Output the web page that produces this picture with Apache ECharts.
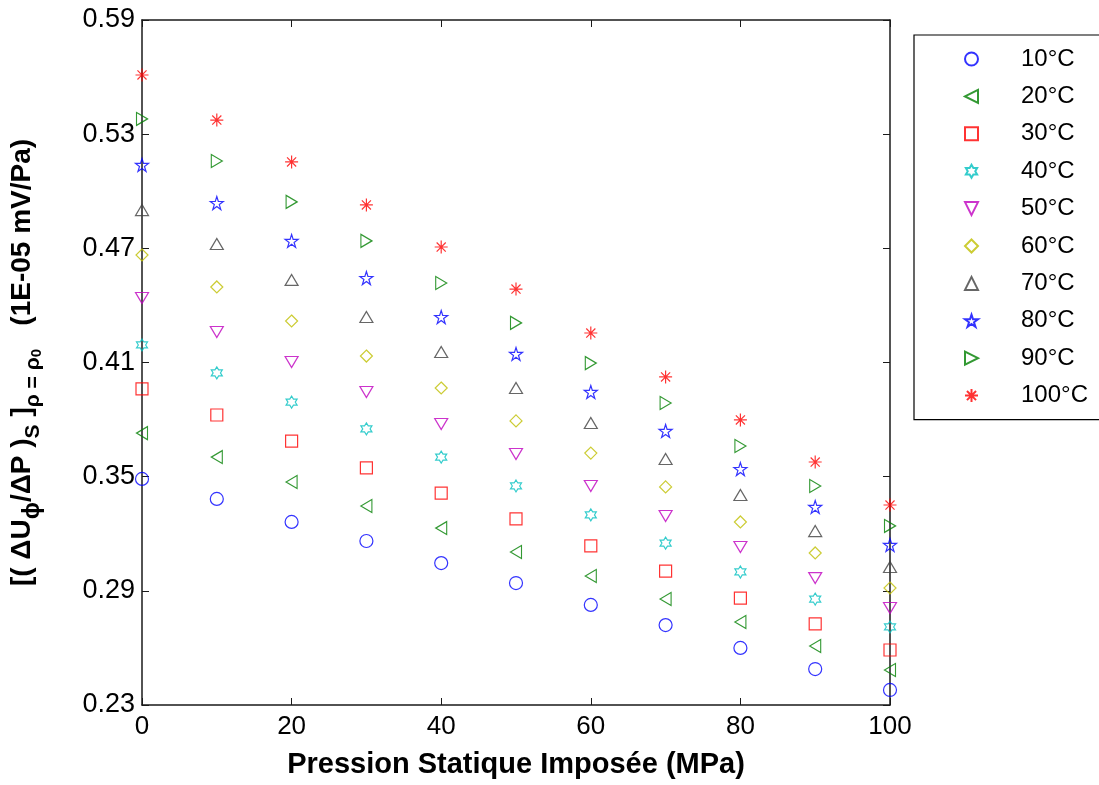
<!DOCTYPE html>
<html>
<head>
<meta charset="utf-8">
<script src="https://cdn.jsdelivr.net/npm/echarts@6/dist/echarts.min.js"></script>
<style>
  html, body { margin: 0; padding: 0; background: #ffffff; }
  #chart { width: 1099px; height: 785px; }
</style>
</head>
<body>
<div id="chart"></div>
<script>
// Static pressure (MPa)
const pressures = [0, 10, 20, 30, 40, 50, 60, 70, 80, 90, 100];

// Temperatures shown in the legend
const temperatures = ['10°C', '20°C', '30°C', '40°C', '50°C', '60°C', '70°C', '80°C', '90°C', '100°C'];

// Sensitivity (1E-05 mV/Pa) per temperature, one value per pressure
const t10  = [0.3488, 0.3383, 0.3262, 0.3162, 0.3046, 0.2941, 0.2826, 0.2720, 0.2600, 0.2489, 0.2379];
const t20  = [0.3729, 0.3603, 0.3472, 0.3346, 0.3230, 0.3104, 0.2978, 0.2857, 0.2736, 0.2610, 0.2484];
const t30  = [0.3961, 0.3824, 0.3687, 0.3546, 0.3414, 0.3278, 0.3136, 0.3004, 0.2862, 0.2726, 0.2589];
const t40  = [0.4192, 0.4045, 0.3892, 0.3751, 0.3603, 0.3451, 0.3299, 0.3151, 0.2999, 0.2857, 0.2710];
const t50  = [0.4439, 0.4260, 0.4103, 0.3945, 0.3777, 0.3619, 0.3451, 0.3293, 0.3130, 0.2967, 0.2810];
const t60  = [0.4665, 0.4497, 0.4318, 0.4134, 0.3966, 0.3793, 0.3624, 0.3446, 0.3262, 0.3099, 0.2915];
const t70  = [0.4901, 0.4723, 0.4534, 0.4339, 0.4155, 0.3966, 0.3782, 0.3593, 0.3404, 0.3214, 0.3025];
const t80  = [0.5138, 0.4938, 0.4739, 0.4544, 0.4339, 0.4145, 0.3945, 0.3740, 0.3540, 0.3341, 0.3141];
const t90  = [0.5380, 0.5159, 0.4944, 0.4739, 0.4518, 0.4308, 0.4097, 0.3887, 0.3661, 0.3451, 0.3241];
const t100 = [0.5611, 0.5374, 0.5154, 0.4928, 0.4707, 0.4486, 0.4255, 0.4024, 0.3798, 0.3577, 0.3351];

// Axis tick values
const xTicks = [0, 20, 40, 60, 80, 100];
const yTicks = [0.23, 0.29, 0.35, 0.41, 0.47, 0.53, 0.59];

const seriesValues = [t10, t20, t30, t40, t50, t60, t70, t80, t90, t100];

// Marker styling (MATLAB-like hollow markers)
const markerColors = ['#0000FF', '#008000', '#FF0000', '#00BFBF', '#BF00BF', '#BFBF00', '#404040', '#0000FF', '#008000', '#FF0000'];
const markerShapes = [
  'circle',
  'path://M0,50 L100,0 L100,100 Z',
  'path://M0,0 L100,0 L100,100 L0,100 Z',
  'path://M50,0 L64.43,25 L93.3,25 L78.87,50 L93.3,75 L64.43,75 L50,100 L35.57,75 L6.7,75 L21.13,50 L6.7,25 L35.57,25 Z',
  'path://M0,0 L100,0 L50,100 Z',
  'path://M50,0 L100,50 L50,100 L0,50 Z',
  'path://M50,0 L100,100 L0,100 Z',
  'path://M50,0 L61.23,34.55 L97.55,34.55 L68.16,55.9 L79.39,90.45 L50,69.1 L20.61,90.45 L31.84,55.9 L2.45,34.55 L38.77,34.55 Z',
  'path://M100,50 L0,0 L0,100 Z',
  'path://M50,0 L50,100 M0,50 L100,50 M15,15 L85,85 M85,15 L15,85'
];
const markerSizes = [[13, 13], [11, 13], [12, 12], [11, 12], [13, 11], [12, 12], [13, 11], [13, 13], [11, 13], [13, 13]];

const FONT = '"Liberation Sans", Arial, sans-serif';
const AXIS_COLOR = '#1a1a1a';

const chart = echarts.init(document.getElementById('chart'), null, { renderer: 'canvas' });

const tickStyle = { show: true, inside: true, length: 7, lineStyle: { color: AXIS_COLOR, width: 1 } };
const lineStyle = { show: true, onZero: false, lineStyle: { color: AXIS_COLOR, width: 1.5 } };

const yName = '{m|[( ΔU}{phi|ϕ}{m|/ΔP )}{s|S}{m| ]}{s|ρ = ρ}{s2|0}{m|   (1E-05 mV/Pa)}';

const option = {
  animation: false,
  backgroundColor: '#ffffff',
  grid: { left: 140, right: 209, top: 20, bottom: 80, containLabel: false },
  legend: {
    orient: 'vertical',
    left: 914,
    top: 35,
    itemWidth: 13,
    itemHeight: 13,
    itemGap: 13.4,
    padding: [12, 20, 12, 50],
    borderColor: '#000',
    borderWidth: 1.2,
    selectedMode: false,
    textStyle: { fontSize: 24, color: '#000', fontFamily: FONT, padding: [0, 0, 0, 38] },
    data: temperatures
  },
  xAxis: [
    {
      type: 'value', position: 'bottom', min: 0, max: 100, interval: 20,
      axisLine: lineStyle,
      axisTick: Object.assign({ customValues: xTicks }, tickStyle),
      axisLabel: { customValues: xTicks, fontSize: 26, color: '#000', fontFamily: FONT, margin: 9 },
      splitLine: { show: false },
      name: 'Pression Statique Imposée (MPa)',
      nameLocation: 'middle',
      nameGap: 45,
      nameTextStyle: { fontSize: 29, fontWeight: 'bold', color: '#000', fontFamily: FONT }
    },
    {
      type: 'value', position: 'top', min: 0, max: 100, interval: 20,
      axisLine: lineStyle,
      axisTick: Object.assign({ customValues: xTicks }, tickStyle),
      axisLabel: { show: false },
      splitLine: { show: false }
    }
  ],
  yAxis: [
    {
      type: 'value', position: 'left', min: 0.23, max: 0.59,
      axisLine: lineStyle,
      axisTick: Object.assign({ customValues: yTicks }, tickStyle),
      axisLabel: {
        customValues: yTicks, fontSize: 27, color: '#000', fontFamily: FONT, margin: 7,
        formatter: v => v.toFixed(2)
      },
      splitLine: { show: false },
      name: yName,
      nameLocation: 'middle',
      nameRotate: 90,
      nameGap: 98,
      nameTextStyle: {
        fontFamily: FONT,
        rich: {
          m:   { fontSize: 28, fontWeight: 'bold', color: '#000', fontFamily: FONT, lineHeight: 44, verticalAlign: 'middle' },
          phi: { fontSize: 23, fontWeight: 'bold', color: '#000', fontFamily: FONT, lineHeight: 36, verticalAlign: 'bottom' },
          s:   { fontSize: 21, fontWeight: 'bold', color: '#000', fontFamily: FONT, lineHeight: 24, verticalAlign: 'bottom' },
          s2:  { fontSize: 15, fontWeight: 'bold', color: '#000', fontFamily: FONT, lineHeight: 10, verticalAlign: 'bottom' }
        }
      }
    },
    {
      type: 'value', position: 'right', min: 0.23, max: 0.59,
      axisLine: lineStyle,
      axisTick: Object.assign({ customValues: yTicks }, tickStyle),
      axisLabel: { show: false },
      splitLine: { show: false }
    }
  ],
  series: temperatures.map((name, i) => ({
    type: 'scatter',
    name: name,
    xAxisIndex: 0,
    yAxisIndex: 0,
    data: pressures.map((p, j) => [p, seriesValues[i][j]]),
    symbol: markerShapes[i],
    symbolSize: markerSizes[i],
    itemStyle: { color: 'rgba(0,0,0,0)', borderColor: markerColors[i], borderWidth: 1.2 },
    emphasis: { disabled: true }
  }))
};

chart.setOption(option);
</script>
</body>
</html>
